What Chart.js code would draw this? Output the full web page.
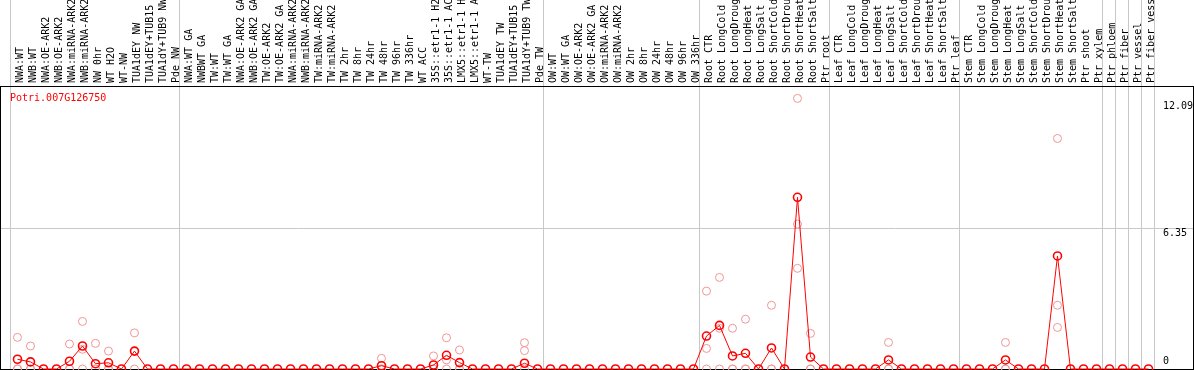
<!DOCTYPE html>
<html>
<head>
<meta charset="utf-8">
<script src="https://cdn.jsdelivr.net/npm/chart.js@4.4.1/dist/chart.umd.min.js"></script>
<style>
  html, body { margin: 0; padding: 0; background: #fff; }
  #wrap { position: relative; width: 1194px; height: 370px; }
  #gene { position: absolute; left: 10px; top: 92px; font: 10px 'DejaVu Sans Mono', monospace; color: #f00; }
</style>
</head>
<body>
<div id="wrap">
  <canvas id="chart"></canvas>
  <div id="gene">Potri.007G126750</div>
</div>
<script>
const samples = [
  'NWA:WT', 'NWB:WT', 'NWA:OE-ARK2', 'NWB:OE-ARK2', 'NWA:miRNA-ARK2', 'NWB:miRNA-ARK2', 'NW 0hr', 'WT H2O', 'WT-NW',
  'TUA1dEY NW', 'TUA1dEY+TUB15 NW', 'TUA1dY+TUB9 NW', 'Pde NW',
  'NWA:WT GA', 'NWBWT GA', 'TW:WT', 'TW:WT GA', 'NWA:OE-ARK2 GA', 'NWB:OE-ARK2 GA', 'TW:OE-ARK2', 'TW:OE-ARK2 GA',
  'NWA:miRNA-ARK2', 'NWB:miRNA-ARK2', 'TW:miRNA-ARK2', 'TW:miRNA-ARK2', 'TW 2hr', 'TW 8hr', 'TW 24hr', 'TW 48hr',
  'TW 96hr', 'TW 336hr', 'WT ACC', '35S::etr1-1 H2O', '35S::etr1-1 ACC', 'LMX5::etr1-1 H2O', 'LMX5::etr1-1 ACC',
  'WT-TW', 'TUA1dEY TW', 'TUA1dEY+TUB15 TW', 'TUA1dY+TUB9 TW', 'Pde TW',
  'OW:WT', 'OW:WT GA', 'OW:OE-ARK2', 'OW:OE-ARK2 GA', 'OW:miRNA-ARK2', 'OW:miRNA-ARK2', 'OW 2hr', 'OW 8hr',
  'OW 24hr', 'OW 48hr', 'OW 96hr', 'OW 336hr',
  'Root CTR', 'Root LongCold', 'Root LongDrought', 'Root LongHeat', 'Root LongSalt', 'Root ShortCold',
  'Root ShortDrought', 'Root ShortHeat', 'Root ShortSalt', 'Ptr root',
  'Leaf CTR', 'Leaf LongCold', 'Leaf LongDrought', 'Leaf LongHeat', 'Leaf LongSalt', 'Leaf ShortCold',
  'Leaf ShortDrought', 'Leaf ShortHeat', 'Leaf ShortSalt', 'Ptr leaf',
  'Stem CTR', 'Stem LongCold', 'Stem LongDrought', 'Stem LongHeat', 'Stem LongSalt', 'Stem ShortCold',
  'Stem ShortDrought', 'Stem ShortHeat', 'Stem ShortSalt', 'Ptr shoot', 'Ptr xylem',
  'Ptr phloem', 'Ptr fiber', 'Ptr vessel', 'Ptr fiber vessel'
]

// index of the first sample of each group (gridline drawn before it)
const groupStarts = [0, 13, 41, 53, 63, 73, 84, 85, 86, 87, 88]

const meanValues = [
  0.44, 0.32, 0, 0, 0.35, 1.04, 0.24, 0.28, 0, 0.81, 0, 0, 0,
  0, 0, 0, 0, 0, 0, 0, 0, 0, 0, 0, 0, 0, 0, 0, 0.15, 0, 0, 0, 0.18, 0.62, 0.29, 0, 0, 0, 0, 0.26, 0,
  0, 0, 0, 0, 0, 0, 0, 0, 0, 0, 0, 0,
  1.49, 1.97, 0.59, 0.71, 0, 0.95, 0, 7.76, 0.54, 0,
  0, 0, 0, 0, 0.41, 0, 0, 0, 0, 0,
  0, 0, 0, 0.41, 0, 0, 0, 5.11, 0, 0, 0,
  0, 0, 0, 0
]

const rep1 = [
  1.43, 1.04, null, null, 1.13, 2.15, 1.16, 0.81, null, 1.63, null, null, null,
  null, null, null, null, null, null, null, null, null, null, null, null, null, null, null, 0.48, null, null, null, 0.59, 1.41, 0.86, null, null, null, null, 1.19, null,
  null, null, null, null, null, null, null, null, null, null, null, null,
  3.52, 4.14, 1.84, 2.25, null, 2.88, null, 12.23, 1.61, null,
  null, null, null, null, 1.2, null, null, null, null, null,
  null, null, null, 1.2, null, null, null, 10.42, null, null, null,
  null, null, null, null
]

const rep2 = [
  0, 0, null, null, 0, 0.89, 0, 0, null, 0.8, null, null, null,
  null, null, null, null, null, null, null, null, null, null, null, null, null, null, null, 0, null, null, null, 0, 0.41, 0, null, null, null, null, 0.83, null,
  null, null, null, null, null, null, null, null, null, null, null, null,
  0.93, 1.84, 0, 0, null, 0, null, 6.55, 0, null,
  null, null, null, null, 0, null, null, null, null, null,
  null, null, null, 0, null, null, null, 2.88, null, null, null,
  null, null, null, null
]

const rep3 = [
  0, 0, null, null, 0, 0, 0, 0, null, 0, null, null, null,
  null, null, null, null, null, null, null, null, null, null, null, null, null, null, null, 0, null, null, null, 0, 0, 0, null, null, null, null, 0, null,
  null, null, null, null, null, null, null, null, null, null, null, null,
  0, 0, 0, 0, null, 0, null, 4.55, 0, null,
  null, null, null, null, 0, null, null, null, null, null,
  null, null, null, 0, null, null, null, 1.88, null, null, null,
  null, null, null, null
]

const yTicks = [0, 6.35, 12.09]

const monoFont = { family: 'DejaVu Sans Mono', size: 10 }
const gridGrey = '#c8c8c8'

function toPoints(values) {
  return values.map((v, i) => ({ x: i, y: v }))
}

function repDataset(values) {
  return {
    data: toPoints(values),
    showLine: false,
    pointRadius: 4,
    pointBorderWidth: 1,
    pointBackgroundColor: 'transparent',
    pointBorderColor: '#ef9595',
    order: 1,
    clip: false
  }
}

const frame = {
  id: 'frame',
  beforeDatasetsDraw(chart) {
    const { ctx, chartArea: a } = chart
    ctx.save()
    ctx.strokeStyle = '#000'
    ctx.lineWidth = 1
    ctx.strokeRect(a.left + 0.5, a.top + 0.5, a.right - a.left - 1, a.bottom - a.top)
    ctx.restore()
  }
}

new Chart(document.getElementById('chart'), {
  type: 'line',
  data: {
    datasets: [
      {
        data: toPoints(meanValues),
        borderColor: '#ff0000',
        borderWidth: 1,
        pointRadius: 4,
        pointBorderWidth: 1.6,
        pointBackgroundColor: 'transparent',
        pointBorderColor: '#ff0000',
        tension: 0,
        order: 0,
        clip: false
      },
      repDataset(rep1),
      repDataset(rep2),
      repDataset(rep3)
    ]
  },
  options: {
    responsive: true,
    maintainAspectRatio: false,
    animation: false,
    layout: { autoPadding: false, padding: { top: 0, left: 0, right: 0, bottom: 1 } },
    plugins: {
      legend: { display: false },
      tooltip: { enabled: false }
    },
    scales: {
      x: {
        type: 'linear',
        position: 'top',
        bounds: 'data',
        min: -1.346,
        max: 90.5,
        afterBuildTicks: scale => {
          const ticks = samples.map((s, i) => ({ value: i }))
            .concat(groupStarts.map(g => ({ value: g - 0.5 })))
          ticks.sort((a, b) => a.value - b.value)
          scale.ticks = ticks
        },
        afterFit: scale => {
          scale.height = 86
          scale.paddingLeft = 0
          scale.paddingRight = 0
        },
        grid: {
          color: ctx => (ctx.tick && !Number.isInteger(ctx.tick.value)) ? gridGrey : 'transparent',
          tickLength: 86,
          drawOnChartArea: true
        },
        border: { display: false },
        ticks: {
          autoSkip: false,
          minRotation: 90,
          maxRotation: 90,
          padding: -83,
          labelOffset: 14.5,
          font: monoFont,
          color: '#000',
          callback: v => Number.isInteger(v) ? samples[v] : ''
        }
      },
      y: {
        position: 'right',
        min: 0,
        max: 12.79,
        afterBuildTicks: scale => {
          scale.ticks = yTicks.map(v => ({ value: v }))
        },
        afterFit: scale => {
          scale.width = 0
          scale.paddingTop = 0
          scale.paddingBottom = 0
        },
        grid: {
          color: ctx => (ctx.tick && ctx.tick.value === 6.35) ? gridGrey : 'transparent',
          drawTicks: false
        },
        border: { display: false },
        ticks: {
          mirror: true,
          crossAlign: 'far',
          padding: -1,
          labelOffset: 4.5,
          font: monoFont,
          color: '#000',
          callback: v => v === 0 ? ['0', '', ''] : String(v)
        }
      }
    }
  },
  plugins: [frame]
})
</script>
</body>
</html>
